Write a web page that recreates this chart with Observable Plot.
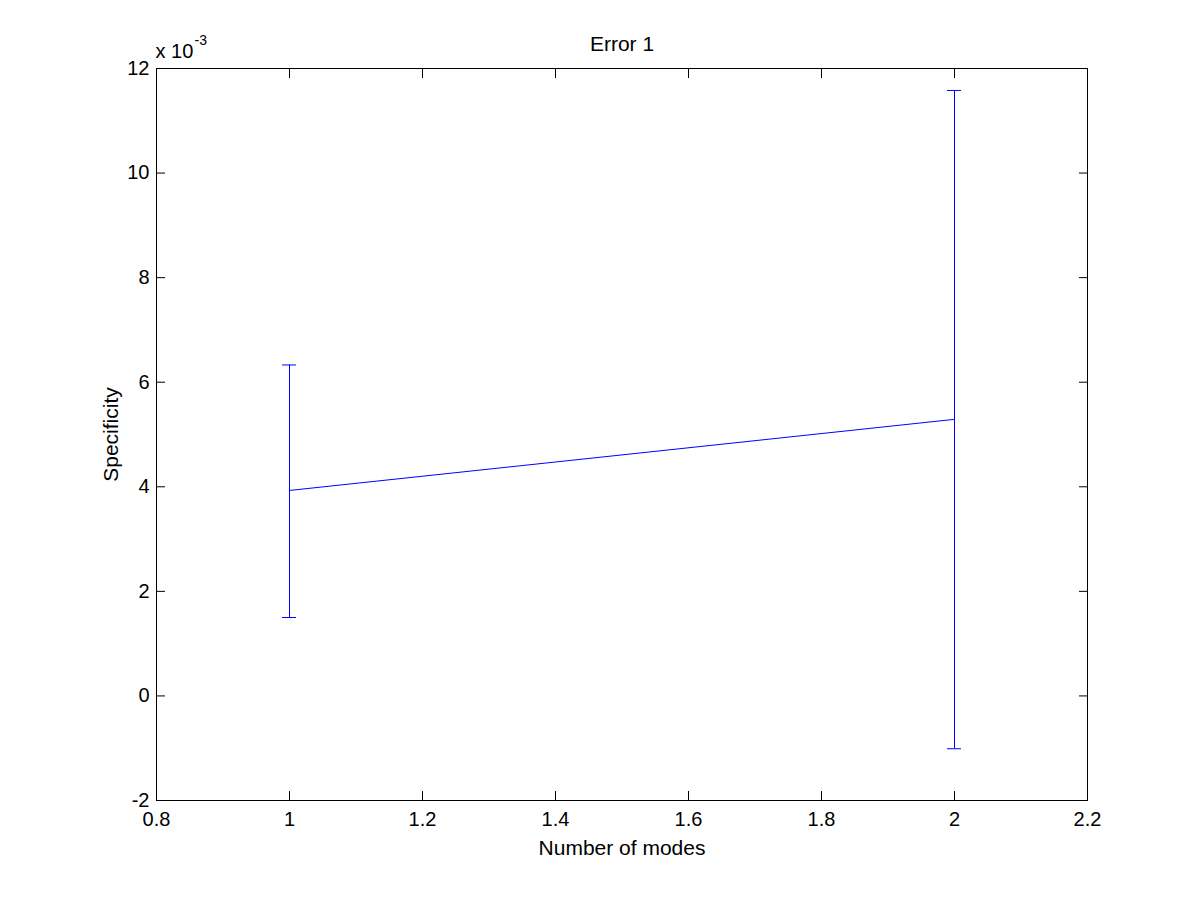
<!DOCTYPE html>
<html>
<head>
<meta charset="utf-8">
<script src="https://cdn.jsdelivr.net/npm/d3@7"></script>
<script src="https://cdn.jsdelivr.net/npm/@observablehq/plot@0.6"></script>
<style>
  html, body { margin: 0; padding: 0; background: #fff; }
  svg { display: block; }
</style>
</head>
<body>
<div id="chart"></div>
<script>
// Data (specificity values in units of 10^-3)
const modes = [1, 2];
const means = [3.93, 5.29];
const upper = [6.33, 11.58];
const lower = [1.50, -1.01];
const xTicks = [0.8, 1, 1.2, 1.4, 1.6, 1.8, 2, 2.2];
const yTicks = [-2, 0, 2, 4, 6, 8, 10, 12];

const data = modes.map((m, i) => ({x: m, y: means[i], hi: upper[i], lo: lower[i]}));
const capHalf = 0.0105; // half-width of the error-bar caps, in x units
const blue = "#0000ff";
const font = "Liberation Sans, Arial, sans-serif";

const chart = Plot.plot({
  width: 1201,
  height: 900,
  marginLeft: 156,
  marginRight: 114,
  marginTop: 68,
  marginBottom: 100,
  style: {fontFamily: font, fontSize: "20px", background: "#fff", color: "#000"},
  x: {domain: [0.8, 2.2], ticks: xTicks},
  y: {domain: [-2, 12], ticks: yTicks},
  marks: [
    Plot.frame({stroke: "#000", strokeWidth: 1}),
    // tick labels
    Plot.axisX(xTicks, {anchor: "bottom", tickSize: 0, tickPadding: 11, label: null, tickFormat: d => String(d), fontSize: 20}),
    Plot.axisY(yTicks, {anchor: "left", tickSize: 0, tickPadding: 7, label: null, tickFormat: d => String(d), fontSize: 20}),
    // inward ticks on all four sides
    Plot.axisX(xTicks, {anchor: "bottom", tickSize: 9, text: null, label: null, dy: -9}),
    Plot.axisX(xTicks, {anchor: "top", tickSize: 9, text: null, label: null, dy: 9}),
    Plot.axisY(yTicks, {anchor: "left", tickSize: 9, text: null, label: null, dx: 9}),
    Plot.axisY(yTicks, {anchor: "right", tickSize: 9, text: null, label: null, dx: -9}),
    // error bars
    Plot.ruleX(data, {x: "x", y1: "lo", y2: "hi", stroke: blue, strokeWidth: 1}),
    Plot.ruleY(data, {y: "hi", x1: d => d.x - capHalf, x2: d => d.x + capHalf, stroke: blue, strokeWidth: 1}),
    Plot.ruleY(data, {y: "lo", x1: d => d.x - capHalf, x2: d => d.x + capHalf, stroke: blue, strokeWidth: 1}),
    Plot.line(data, {x: "x", y: "y", stroke: blue, strokeWidth: 1}),
    // texts
    Plot.text(["Error 1"], {frameAnchor: "top", textAnchor: "middle", lineAnchor: "middle", dy: -24, fontSize: 21}),
    Plot.text(["Number of modes"], {frameAnchor: "bottom", textAnchor: "middle", lineAnchor: "middle", dy: 48, fontSize: 21}),
    Plot.text(["Specificity"], {frameAnchor: "left", textAnchor: "middle", lineAnchor: "middle", dx: -45, rotate: -90, fontSize: 21}),
    Plot.text(["x 10"], {frameAnchor: "top-left", textAnchor: "start", lineAnchor: "middle", dx: -1, dy: -16.5, fontSize: 20}),
    Plot.text(["-3"], {frameAnchor: "top-left", textAnchor: "start", lineAnchor: "middle", dx: 38, dy: -28, fontSize: 14})
  ]
});
document.getElementById("chart").appendChild(chart);
</script>
</body>
</html>
